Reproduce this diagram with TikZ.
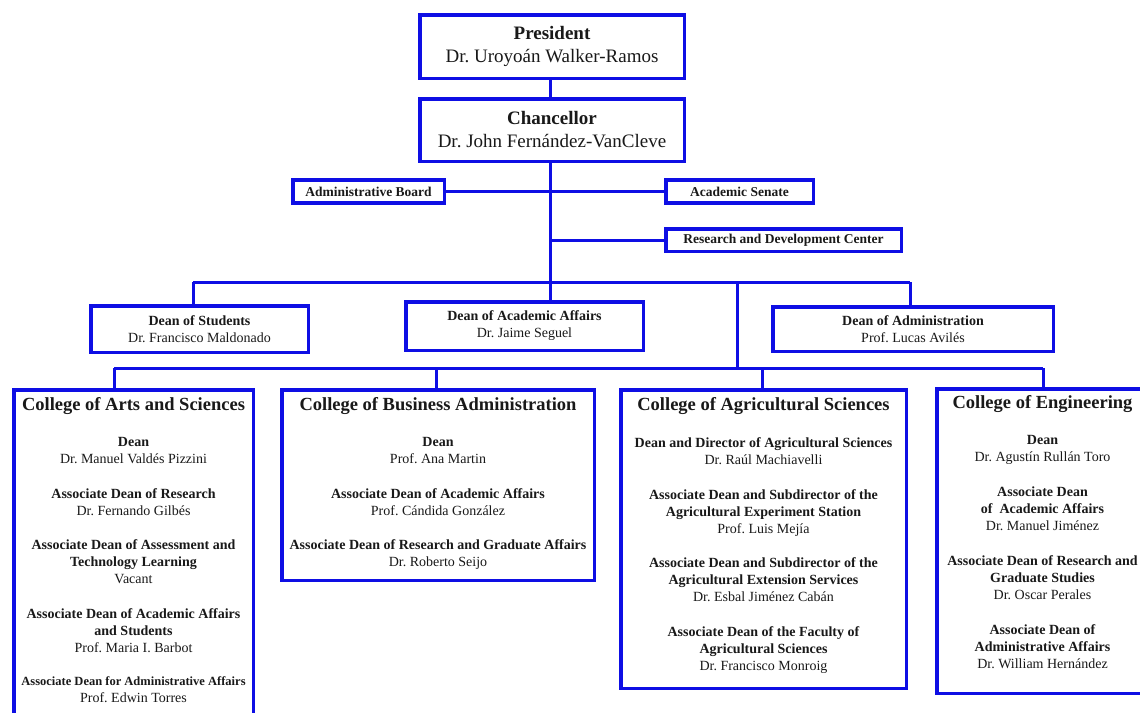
\documentclass[tikz,border=0pt]{standalone}
\usepackage{fontspec}
\setmainfont{Liberation Serif}
\definecolor{ublue}{RGB}{14,14,228}
\definecolor{utext}{RGB}{25,25,25}
\tikzset{
  x=1pt, y=-1pt,
  box/.style={draw=ublue, line width=3.5pt, inner sep=0pt, align=center, text=utext},
  topbox/.style={box, font=\fontsize{19}{23}\selectfont},
  smallbox/.style={box, font=\fontsize{13.5}{16}\selectfont\bfseries},
  deanbox/.style={box, font=\fontsize{14}{17}\selectfont},
  college/.style={box},
  content/.style={anchor=north, inner sep=0pt, align=center, text=utext, font=\fontsize{14}{17}\selectfont},
  conn/.style={draw=ublue, line width=3pt},
}
\newcommand{\ctitle}[1]{{\fontsize{18.5}{22}\selectfont\bfseries #1}}
\begin{document}
\frenchspacing
\begin{tikzpicture}
\useasboundingbox (0,0) rectangle (1140,712);
\fill[white] (0,0) rectangle (1140,712);
\clip (0,0) rectangle (1140,712);

% top
\node[topbox, minimum width=264.5pt, minimum height=63.5pt] (pres) at (552,46.5) {\textbf{President}\\Dr. Uroyoán Walker-Ramos};
\node[topbox, minimum width=264.5pt, minimum height=62.5pt] (chan) at (552,130) {\textbf{Chancellor}\\Dr. John Fernández-VanCleve};

\node[smallbox, minimum width=151.5pt, minimum height=23pt] (adb) at (368.5,191.5) {Administrative Board};
\node[smallbox, minimum width=147.5pt, minimum height=23pt] (sen) at (739.5,191.5) {Academic Senate};
\node[smallbox, minimum width=235.5pt, minimum height=22.5pt] (rd) at (783.5,240) {Research and Development Center};

% deans
\node[deanbox, minimum width=217.5pt, minimum height=46.5pt] (dstu) at (199.5,329) {\textbf{Dean of Students}\\Dr. Francisco Maldonado};
\node[deanbox, minimum width=237.5pt, minimum height=48.5pt] (dacad) at (524.5,326) {\textbf{Dean of Academic Affairs}\\Dr. Jaime Seguel};
\node[deanbox, minimum width=280.5pt, minimum height=44.5pt] (dadm) at (913,329) {\textbf{Dean of Administration}\\Prof. Lucas Avilés};

% colleges
\node[college, minimum width=239.5pt, minimum height=368.5pt] (arts) at (133.5,574) {};
\node[college, minimum width=312.5pt, minimum height=190.5pt] (bus) at (438,485) {};
\node[college, minimum width=285.5pt, minimum height=298.5pt] (agr) at (763.5,539) {};
\node[college, minimum width=211.5pt, minimum height=304.5pt] (eng) at (1042.5,541) {};

\node[content] (artst) at ([yshift=-9pt]arts.north) {%
\ctitle{College of Arts and Sciences}\\[19pt]
\textbf{Dean}\\ Dr. Manuel Valdés Pizzini\\[18pt]
\textbf{Associate Dean of Research}\\ Dr. Fernando Gilbés\\[17pt]
\textbf{Associate Dean of Assessment and}\\ \textbf{Technology Learning}\\ Vacant\\[18pt]
\textbf{Associate Dean of Academic Affairs}\\ \textbf{and Students}\\ Prof. Maria I. Barbot\\[16pt]
{\fontsize{12.5}{17}\selectfont\bfseries Associate Dean for Administrative Affairs}\\ Prof. Edwin Torres};

\node[content] (bust) at ([yshift=-9pt]bus.north) {%
\ctitle{College of Business Administration}\\[19pt]
\textbf{Dean}\\ Prof. Ana Martin\\[18pt]
\textbf{Associate Dean of Academic Affairs}\\ Prof. Cándida González\\[17pt]
\textbf{Associate Dean of Research and Graduate Affairs}\\ Dr. Roberto Seijo};

\node[content] (agrt) at ([yshift=-9pt]agr.north) {%
\ctitle{College of Agricultural Sciences}\\[20pt]
\textbf{Dean and Director of Agricultural Sciences}\\ Dr. Raúl Machiavelli\\[18pt]
\textbf{Associate Dean and Subdirector of the}\\ \textbf{Agricultural Experiment Station}\\ Prof. Luis Mejía\\[17pt]
\textbf{Associate Dean and Subdirector of the}\\ \textbf{Agricultural Extension Services}\\ Dr. Esbal Jiménez Cabán\\[18pt]
\textbf{Associate Dean of the Faculty of}\\ \textbf{Agricultural Sciences}\\ Dr. Francisco Monroig};

\node[content] (engt) at ([yshift=-8pt]eng.north) {%
\ctitle{College of Engineering}\\[19pt]
\textbf{Dean}\\ Dr. Agustín Rullán Toro\\[18pt]
\textbf{Associate Dean}\\ \textbf{of\ \ Academic Affairs}\\ Dr. Manuel Jiménez\\[18pt]
\textbf{Associate Dean of Research and}\\ \textbf{Graduate Studies}\\ Dr. Oscar Perales\\[18pt]
\textbf{Associate Dean of}\\ \textbf{Administrative Affairs}\\ Dr. William Hernández};

% connector points
\coordinate (spine) at (550,0);
\coordinate (dbar) at (550,282);
\coordinate (dbarL) at (193,282);
\coordinate (dbarR) at (910,282);
\coordinate (mid) at (737,282);
\coordinate (cbar) at (737,368);
\coordinate (cbarL) at (114,368);
\coordinate (cbarR) at (1043,368);
\coordinate (cbus) at (436,368);
\coordinate (cagr) at (762,368);

\draw[conn] (pres.south -| spine) -- (chan.north -| spine);
\draw[conn] (chan.south -| spine) -- (dbar);
\draw[conn] (adb.east) -- (sen.west);
\draw[conn] (rd.west -| spine) -- (rd.west);
\draw[conn] (dbarL) -- (dbarR);
\draw[conn] (dbarL) -- (dstu.north -| dbarL);
\draw[conn] (dbar) -- (dacad.north -| dbar);
\draw[conn] (dbarR) -- (dadm.north -| dbarR);
\draw[conn] (mid) -- (cbar);
\draw[conn] (cbarL) -- (cbarR);
\draw[conn] (cbarL) -- (arts.north -| cbarL);
\draw[conn] (cbus) -- (bus.north -| cbus);
\draw[conn] (cagr) -- (agr.north -| cagr);
\draw[conn] (cbarR) -- (eng.north -| cbarR);
\end{tikzpicture}
\end{document}
